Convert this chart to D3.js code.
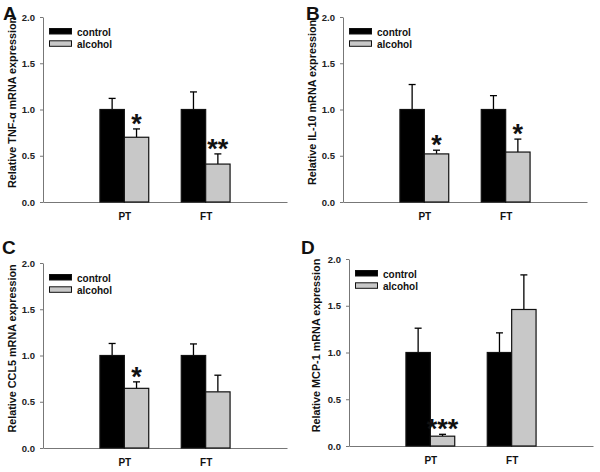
<!DOCTYPE html>
<html><head><meta charset="utf-8">
<script src="https://cdn.jsdelivr.net/npm/d3@7"></script>
<style>
body{margin:0;background:#fff;}
svg{display:block;font-family:Arial,"Liberation Sans",sans-serif;}
</style></head>
<body><svg id="c" width="600" height="472"></svg>
<script>
const categories = ["PT", "FT"];
const seriesNames = ["control", "alcohol"];
const yTicks = [0, 0.5, 1.0, 1.5, 2.0];

// Panel A: TNF-α
const tnfControl = [1.0, 1.0];
const tnfControlErr = [0.12, 0.19];
const tnfAlcohol = [0.70, 0.41];
const tnfAlcoholErr = [0.09, 0.11];
const tnfStars = ["*", "**"];

// Panel B: IL-10
const il10Control = [1.0, 1.0];
const il10ControlErr = [0.27, 0.15];
const il10Alcohol = [0.52, 0.54];
const il10AlcoholErr = [0.04, 0.14];
const il10Stars = ["*", "*"];

// Panel C: CCL5
const ccl5Control = [1.0, 1.0];
const ccl5ControlErr = [0.13, 0.125];
const ccl5Alcohol = [0.645, 0.607];
const ccl5AlcoholErr = [0.07, 0.18];
const ccl5Stars = ["*", ""];

// Panel D: MCP-1
const mcp1Control = [1.0, 1.0];
const mcp1ControlErr = [0.26, 0.21];
const mcp1Alcohol = [0.105, 1.46];
const mcp1AlcoholErr = [0.02, 0.37];
const mcp1Stars = ["***", ""];

const panels = [
  {letter:"A", label:"Relative TNF-\u03b1 mRNA expression", control:tnfControl, cErr:tnfControlErr, alcohol:tnfAlcohol, aErr:tnfAlcoholErr, stars:tnfStars,
   ox:43, oy:17, h:185, lx:3, ly:20, labX:-30.5},
  {letter:"B", label:"Relative IL-10 mRNA expression", control:il10Control, cErr:il10ControlErr, alcohol:il10Alcohol, aErr:il10AlcoholErr, stars:il10Stars,
   ox:343, oy:17, h:185, lx:306, ly:20, labX:-30.5},
  {letter:"C", label:"Relative CCL5 mRNA expression", control:ccl5Control, cErr:ccl5ControlErr, alcohol:ccl5Alcohol, aErr:ccl5AlcoholErr, stars:ccl5Stars,
   ox:43, oy:263, h:185, lx:2, ly:254, labX:-30.5},
  {letter:"D", label:"Relative MCP-1 mRNA expression", control:mcp1Control, cErr:mcp1ControlErr, alcohol:mcp1Alcohol, aErr:mcp1AlcoholErr, stars:mcp1Stars,
   ox:349, oy:259, h:187, lx:301, ly:254, labX:-33}
];

const svg = d3.select("#c");
const W = 244, barW = 0.3;
const fills = {control:"#000000", alcohol:"#c8c8c8"};

panels.forEach(p => {
  svg.append("text").attr("x", p.lx).attr("y", p.ly)
    .attr("font-size", 19).attr("font-weight", "bold").attr("fill", "#111").text(p.letter);

  const g = svg.append("g").attr("transform", `translate(${p.ox},${p.oy})`);
  const x = d3.scaleLinear().domain([0, 3]).range([0, W]);
  const y = d3.scaleLinear().domain([0, 2]).range([p.h, 0]);

  // y axis
  const ya = g.append("g").call(d3.axisLeft(y).tickValues(yTicks).tickFormat(d3.format(".1f")).tickSize(3).tickPadding(5).tickSizeOuter(0));
  ya.select(".domain").attr("stroke", "#777");
  ya.selectAll(".tick line").attr("stroke", "#777");
  ya.selectAll(".tick text").attr("font-size", 9.5).attr("font-weight", "bold").attr("fill", "#222").attr("font-family", "Arial, 'Liberation Sans', sans-serif");

  // x axis
  const xa = g.append("g").attr("transform", `translate(0,${p.h})`)
    .call(d3.axisBottom(x).tickValues([1, 2]).tickFormat((d, i) => categories[i]).tickSize(0).tickPadding(11).tickSizeOuter(0));
  xa.select(".domain").attr("stroke", "#777");
  xa.selectAll(".tick text").attr("font-size", 10).attr("font-weight", "bold").attr("fill", "#111").attr("font-family", "Arial, 'Liberation Sans', sans-serif");

  // y label
  g.append("text").attr("transform", `translate(${p.labX},${p.h / 2 - 7}) rotate(-90)`)
    .attr("text-anchor", "middle").attr("dy", "0.35em")
    .attr("font-size", 10.8).attr("font-weight", "bold").attr("fill", "#111").text(p.label);

  // bars
  const series = [
    {name:"control", vals:p.control, errs:p.cErr, off:-barW},
    {name:"alcohol", vals:p.alcohol, errs:p.aErr, off:0}
  ];
  series.forEach(s => {
    categories.forEach((c, i) => {
      const x0 = x(i + 1 + s.off), x1 = x(i + 1 + s.off + barW);
      const cx = (x0 + x1) / 2;
      const top = y(s.vals[i]), errTop = y(s.vals[i] + s.errs[i]);
      g.append("line").attr("x1", cx).attr("x2", cx).attr("y1", top).attr("y2", errTop).attr("stroke", "#000").attr("stroke-width", 1.3);
      g.append("line").attr("x1", cx - 3.5).attr("x2", cx + 3.5).attr("y1", errTop).attr("y2", errTop).attr("stroke", "#000").attr("stroke-width", 1.3);
      g.append("rect").attr("x", x0).attr("y", top).attr("width", x1 - x0).attr("height", y(0) - top)
        .attr("fill", fills[s.name]).attr("stroke", "#111").attr("stroke-width", 1.2);
      if (s.name === "alcohol" && p.stars[i]) {
        g.append("text").attr("x", cx).attr("y", errTop + 4).attr("text-anchor", "middle")
          .attr("font-size", 27).attr("font-weight", "bold").attr("fill", "#111").text(p.stars[i]);
      }
    });
  });

  // legend
  seriesNames.forEach((n, i) => {
    const ly = 11.5 + i * 12.3;
    g.append("rect").attr("x", 6.5).attr("y", ly).attr("width", 22).attr("height", 5.5)
      .attr("fill", fills[n]).attr("stroke", "#111").attr("stroke-width", 1);
    g.append("text").attr("x", 34).attr("y", ly + 7).attr("font-size", 10).attr("font-weight", "bold").attr("fill", "#111").text(n);
  });
});
</script></body></html>
